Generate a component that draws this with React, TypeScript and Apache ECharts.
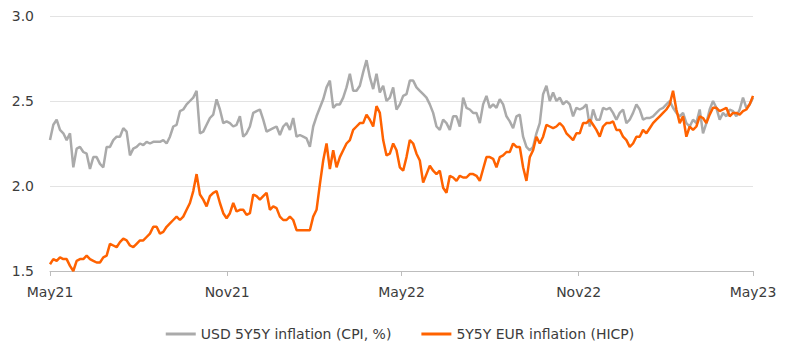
import React, { useEffect, useRef } from "react";
import * as echarts from "echarts";

// Sampling window of the two series (regular sampling grid between these dates)
const START_DATE = "2021-05-01";
const END_DATE = "2023-05-01";

// X-axis tick labels and their dates
const TICK_DATES = ["2021-05-01", "2021-11-01", "2022-05-01", "2022-11-01", "2023-05-01"];
const TICK_LABELS = ["May21", "Nov21", "May22", "Nov22", "May23"];

// Y-axis
const Y_MIN = 1.5;
const Y_MAX = 3.0;
const Y_STEP = 0.5;

const SERIES_NAMES = ["USD 5Y5Y inflation (CPI, %)", "5Y5Y EUR inflation (HICP)"];

// USD 5Y5Y inflation (CPI, %)
const USD_5Y5Y = [
  2.27, 2.36, 2.39, 2.33, 2.31, 2.27, 2.31, 2.11, 2.22, 2.23,
  2.20, 2.19, 2.10, 2.17, 2.17, 2.13, 2.11, 2.23, 2.23, 2.27,
  2.29, 2.29, 2.34, 2.32, 2.18, 2.22, 2.23, 2.25, 2.24, 2.26,
  2.25, 2.26, 2.26, 2.26, 2.27, 2.25, 2.29, 2.35, 2.36, 2.44,
  2.45, 2.48, 2.50, 2.52, 2.56, 2.31, 2.32, 2.36, 2.40, 2.42,
  2.51, 2.45, 2.37, 2.38, 2.37, 2.35, 2.36, 2.41, 2.29, 2.31,
  2.35, 2.43, 2.44, 2.45, 2.39, 2.32, 2.33,
  2.34, 2.35, 2.30, 2.35, 2.37, 2.33, 2.40, 2.29, 2.30, 2.29,
  2.28, 2.23, 2.35, 2.41, 2.46, 2.51, 2.58, 2.62, 2.46, 2.48,
  2.48, 2.52, 2.58, 2.66, 2.56, 2.56, 2.59, 2.67, 2.74, 2.64,
  2.57, 2.66, 2.55, 2.59, 2.50, 2.52, 2.58, 2.45, 2.48, 2.53,
  2.54, 2.62, 2.62, 2.58, 2.56, 2.54, 2.52, 2.48, 2.43, 2.35,
  2.33, 2.39, 2.37, 2.33, 2.41, 2.41, 2.35, 2.52, 2.46, 2.45,
  2.43, 2.43, 2.37, 2.48, 2.53, 2.46, 2.48, 2.46, 2.51, 2.48,
  2.41, 2.38, 2.34, 2.41, 2.42,
  2.29, 2.23, 2.21, 2.23, 2.31, 2.37, 2.54, 2.59, 2.50, 2.55,
  2.50, 2.52, 2.48, 2.50, 2.48, 2.41, 2.46, 2.45, 2.46, 2.48,
  2.35, 2.45, 2.39, 2.39, 2.46, 2.45, 2.46, 2.43, 2.39, 2.43,
  2.45, 2.37, 2.39, 2.43, 2.48, 2.45, 2.39, 2.40, 2.40, 2.41,
  2.43, 2.45, 2.46, 2.48, 2.50, 2.46, 2.43, 2.41, 2.43, 2.37,
  2.35, 2.39, 2.37, 2.45, 2.31, 2.37, 2.45, 2.50, 2.46, 2.39,
  2.43, 2.41, 2.45, 2.44, 2.41, 2.45, 2.52, 2.46, 2.48, 2.52,
];

// 5Y5Y EUR inflation (HICP)
const EUR_5Y5Y = [
  1.54, 1.57, 1.56, 1.58, 1.57, 1.57, 1.53, 1.50, 1.56, 1.57,
  1.57, 1.59, 1.57, 1.56, 1.55, 1.55, 1.58, 1.59, 1.66, 1.65,
  1.64, 1.67, 1.69, 1.68, 1.65, 1.64, 1.66, 1.68, 1.68, 1.70,
  1.72, 1.76, 1.76, 1.72, 1.73, 1.76, 1.78, 1.80, 1.82, 1.80,
  1.82, 1.86, 1.90, 1.97, 2.07, 1.95, 1.92, 1.88, 1.94, 1.96,
  1.97, 1.90, 1.84, 1.81, 1.84, 1.90, 1.85, 1.86, 1.86, 1.83,
  1.84, 1.95, 1.94, 1.92, 1.94, 1.96, 1.86,
  1.88, 1.87, 1.82, 1.80, 1.80, 1.82, 1.80, 1.74, 1.74, 1.74,
  1.74, 1.74, 1.82, 1.86, 2.01, 2.15, 2.25, 2.10, 2.21, 2.11,
  2.17, 2.21, 2.25, 2.27, 2.33, 2.35, 2.37, 2.37, 2.42, 2.39,
  2.35, 2.47, 2.43, 2.27, 2.18, 2.19, 2.25, 2.21, 2.11, 2.09,
  2.17, 2.27, 2.25, 2.19, 2.15, 2.02, 2.07, 2.12, 2.09, 2.07,
  2.09, 1.99, 1.96, 2.06, 2.05, 2.03, 2.06, 2.05, 2.05, 2.07,
  2.07, 2.06, 2.03, 2.10, 2.17, 2.17, 2.16, 2.11, 2.17, 2.18,
  2.20, 2.20, 2.25, 2.23, 2.23,
  2.11, 2.03, 2.17, 2.21, 2.29, 2.25, 2.29, 2.36, 2.35, 2.34,
  2.35, 2.37, 2.35, 2.31, 2.29, 2.27, 2.31, 2.31, 2.37, 2.37,
  2.39, 2.36, 2.33, 2.29, 2.35, 2.37, 2.37, 2.38, 2.33, 2.33,
  2.29, 2.27, 2.23, 2.25, 2.29, 2.29, 2.33, 2.31, 2.34, 2.37,
  2.39, 2.41, 2.43, 2.45, 2.48, 2.56, 2.45, 2.37, 2.41, 2.29,
  2.35, 2.33, 2.35, 2.41, 2.40, 2.37, 2.42, 2.46, 2.46, 2.44,
  2.45, 2.46, 2.41, 2.43, 2.43, 2.42, 2.44, 2.45, 2.48, 2.53,
];

const GRAY = "#aaaaaa";
const ORANGE = "#ff6200";
const FONT = "DejaVu Sans";

function toSeries(values: number[]): [number, number][] {
  const t0 = Date.parse(START_DATE);
  const t1 = Date.parse(END_DATE);
  const n = values.length;
  return values.map((v, i) => [t0 + ((t1 - t0) * i) / (n - 1), v]);
}

export default function App() {
  const ref = useRef<HTMLDivElement>(null);

  useEffect(() => {
    if (!ref.current) return;
    const chart = echarts.init(ref.current, undefined, { renderer: "svg" });
    const tickTimes = TICK_DATES.map((d) => Date.parse(d));
    chart.setOption({
      animation: false,
      backgroundColor: "#ffffff",
      grid: { left: 50, right: 47, top: 16, bottom: 84, containLabel: false },
      legend: {
        bottom: 9,
        left: "center",
        icon: "rect",
        itemWidth: 30,
        itemHeight: 3,
        itemGap: 30,
        textStyle: { fontFamily: FONT, fontSize: 14, color: "#3c3c3c" },
        data: SERIES_NAMES,
      },
      xAxis: {
        type: "value",
        min: Date.parse(START_DATE),
        max: Date.parse(END_DATE),
        axisLine: { show: true, lineStyle: { color: "#bdbdbd", width: 1 } },
        axisTick: { show: true, customValues: tickTimes, length: 5, lineStyle: { color: "#bdbdbd" } },
        axisLabel: {
          customValues: tickTimes,
          margin: 14,
          fontFamily: FONT,
          fontSize: 14,
          color: "#3c3c3c",
          formatter: (val: number) => {
            const idx = tickTimes.indexOf(val);
            return idx >= 0 ? TICK_LABELS[idx] : "";
          },
        },
        splitLine: { show: false },
      },
      yAxis: {
        type: "value",
        min: Y_MIN,
        max: Y_MAX,
        interval: Y_STEP,
        axisLine: { show: false },
        axisTick: { show: false },
        axisLabel: {
          margin: 16,
          fontFamily: FONT,
          fontSize: 14,
          color: "#3c3c3c",
          formatter: (v: number) => v.toFixed(1),
        },
        splitLine: { show: true, lineStyle: { color: "#e3e3e3", width: 1 } },
      },
      series: [
        {
          name: SERIES_NAMES[0],
          type: "line",
          data: toSeries(USD_5Y5Y),
          showSymbol: false,
          lineStyle: { color: GRAY, width: 2.5 },
          itemStyle: { color: GRAY },
        },
        {
          name: SERIES_NAMES[1],
          type: "line",
          data: toSeries(EUR_5Y5Y),
          showSymbol: false,
          lineStyle: { color: ORANGE, width: 2.5 },
          itemStyle: { color: ORANGE },
        },
      ],
    });
    return () => chart.dispose();
  }, []);

  return (
    <div
      ref={ref}
      style={{ position: "fixed", left: 0, top: 0, width: 800, height: 355, background: "#fff" }}
    />
  );
}
